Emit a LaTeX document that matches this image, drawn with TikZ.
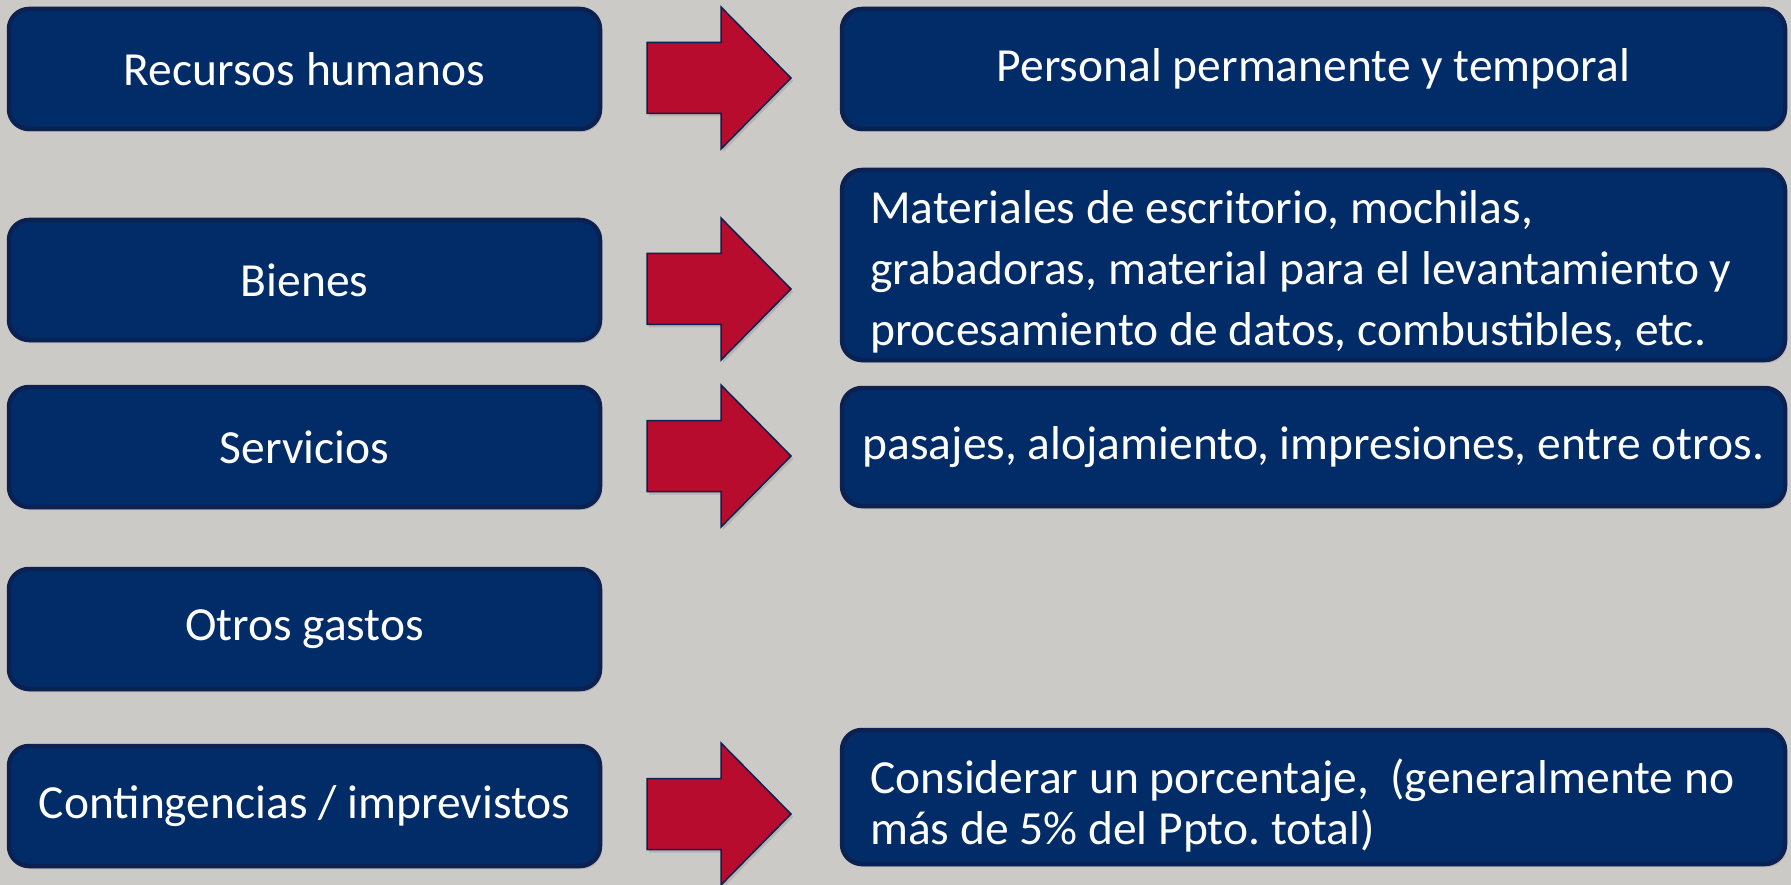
\documentclass[tikz,border=0pt]{standalone}
\usepackage{fontspec}
\setmainfont{Carlito}
\usetikzlibrary{shadows}
\definecolor{bg}{HTML}{CCCAC6}
\definecolor{navy}{HTML}{022C67}
\definecolor{navyedge}{HTML}{0A2152}
\definecolor{crimson}{HTML}{B70C2E}
\newcommand\bArrow[1]{%
  \draw[blockarrow] (#1) ++(0,-35.5) -- ++(74,0) -- ++(0,-35.5) -- ++(70,71)
    -- ++(-70,71) -- ++(0,-35.5) -- ++(-74,0) -- cycle;}
\frenchspacing
\begin{document}
\begin{tikzpicture}[x=1pt,y=-1pt,
  box/.style={draw=navyedge, line width=4.5pt, fill=navy, rounded corners=20pt,
    text=white, font=\fontsize{47.5}{58}\selectfont, inner sep=0pt,
    drop shadow={opacity=0.3, shadow xshift=2pt, shadow yshift=-3pt}},
  lbox/.style={box, minimum width=591pt, minimum height=120pt},
  rbox/.style={box, minimum width=943pt},
  txt/.style={text=white, inner sep=0pt, anchor=west, align=left},
  blockarrow/.style={draw=navyedge, line width=1.5pt, fill=crimson, line join=miter,
    drop shadow={opacity=0.3, shadow xshift=2pt, shadow yshift=-3pt}}]
\fill[bg] (0,0) rectangle (1791,885);
\useasboundingbox (0,0) rectangle (1791,885);

\node[lbox] (L1) at (304.5,69) {Recursos humanos};
\node[lbox] (L2) at (304.5,280) {Bienes};
\node[lbox] (L3) at (304.5,447) {Servicios};
\node[lbox] (L4) at (304.5,629) {Otros gastos};
\node[lbox] (L5) at (304.5,806) {Contingencias / imprevistos};

\coordinate (A1) at (647,78);
\coordinate (A2) at (647,289);
\coordinate (A3) at (647,456);
\coordinate (A5) at (647,814);
\bArrow{A1}
\bArrow{A2}
\bArrow{A3}
\bArrow{A5}

\node[rbox, minimum height=120pt] (R1) at (1313.5,69) {Personal permanente y temporal};
\node[rbox, minimum height=190pt] (R2) at (1313.5,265) {};
\node[txt, font=\fontsize{47.5}{61}\selectfont] (R2t) at (870,272)
  {Materiales de escritorio, mochilas,\\grabadoras, material para el levantamiento y\\procesamiento de datos, combustibles, etc.};
\node[rbox, minimum height=118pt] (R3) at (1313.5,447) {pasajes, alojamiento, impresiones, entre otros.};
\node[rbox, minimum height=134pt] (R5) at (1313.5,797) {};
\node[txt, font=\fontsize{47.5}{51}\selectfont] (R5t) at (870,805)
  {Considerar un porcentaje,\ \ (generalmente no\\más de 5\% del Ppto. total)};
\end{tikzpicture}
\end{document}
